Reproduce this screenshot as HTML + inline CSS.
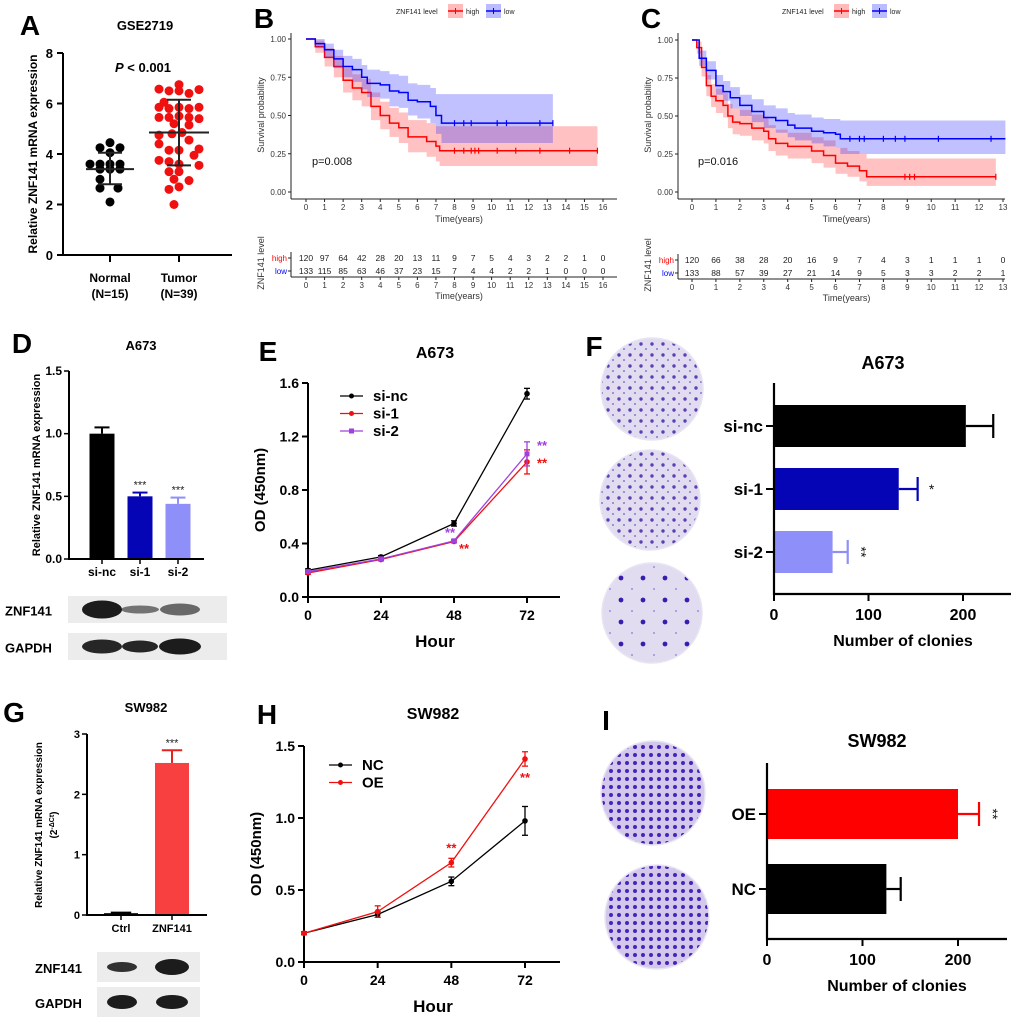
<!DOCTYPE html>
<html><head><meta charset="utf-8"><style>
body{margin:0;background:#fff}
svg{display:block;font-family:"Liberation Sans",Arial,sans-serif}
</style></head><body>
<svg id="fig" width="1020" height="1022" viewBox="0 0 1020 1022" xmlns="http://www.w3.org/2000/svg">
<defs>
<pattern id="dots1" width="11" height="11" patternUnits="userSpaceOnUse"><rect width="11" height="11" fill="#e2dcf1"/><circle cx="3" cy="3" r="1.7" fill="#5a3fb5"/><circle cx="8" cy="8" r="1" fill="#8a78cc"/></pattern>
<pattern id="dots3" width="22" height="22" patternUnits="userSpaceOnUse"><rect width="22" height="22" fill="#e2dcf1"/><circle cx="5" cy="6" r="2.4" fill="#3a1cb0"/><circle cx="16" cy="17" r="0.9" fill="#8a78cc"/></pattern>
<pattern id="dots2" width="8" height="8" patternUnits="userSpaceOnUse"><rect width="8" height="8" fill="#d2c8ec"/><circle cx="3" cy="3" r="2" fill="#4a22b8"/></pattern>
</defs>
<g id="panels"></g>
</svg>
<script>
// ---------- Panel A data ----------
const aNormal=[[0,4.45],[-10,4.25],[10,4.25],[0,4.05],[-20,3.6],[-10,3.6],[0,3.6],[10,3.6],[-10,3.4],[0,3.4],[10,3.4],[-10,3.0],[-10,2.65],[8,2.65],[0,2.1]];
const aTumor=[[0,6.75],[-20,6.57],[-10,6.5],[0,6.5],[10,6.4],[20,6.55],[-20,5.85],[-10,5.8],[0,5.85],[10,5.8],[20,5.85],[-20,5.45],[-10,5.45],[0,5.5],[10,5.45],[20,5.4],[-5,5.2],[10,5.15],[-20,4.75],[-7,4.8],[3,4.85],[10,4.55],[-10,4.15],[0,4.15],[20,4.2],[-20,3.75],[-10,3.7],[0,3.6],[20,3.55],[-10,3.3],[0,3.3],[-5,3.0],[10,2.95],[0,2.7],[-10,2.6],[-5,2.0],[-20,4.4],[15,3.95],[-15,6.05]];
const aStats=[[3.4,2.8,4.05],[4.85,3.55,6.15]];
const aTicks=[0,2,4,6,8];
// ---------- KM data ----------
const bHighT=[0,0.5,1,1.5,2,2.5,3,3.5,4,4.5,5,5.5,6,6.5,7,7.2,15.7];
const bHighS=[1,0.95,0.88,0.82,0.73,0.68,0.65,0.56,0.5,0.45,0.42,0.36,0.36,0.33,0.3,0.27,0.27];
const bHighLo=[1,0.91,0.82,0.75,0.65,0.6,0.56,0.47,0.41,0.36,0.32,0.26,0.26,0.23,0.2,0.17,0.17];
const bHighUp=[1,0.99,0.94,0.89,0.81,0.77,0.74,0.65,0.59,0.55,0.52,0.47,0.47,0.45,0.43,0.43,0.43];
const bLowT=[0,0.5,1,1.5,2,2.5,3,3.3,4,4.5,5,5.5,6,6.7,7,7.3,13.3];
const bLowS=[1,0.97,0.93,0.87,0.82,0.8,0.75,0.71,0.7,0.66,0.65,0.6,0.59,0.56,0.5,0.45,0.45];
const bLowLo=[1,0.94,0.88,0.81,0.75,0.72,0.67,0.62,0.61,0.56,0.55,0.5,0.48,0.45,0.38,0.32,0.32];
const bLowUp=[1,1,0.97,0.93,0.89,0.87,0.83,0.8,0.79,0.77,0.76,0.71,0.7,0.68,0.64,0.64,0.64];
const bHighCens=[8,8.5,8.9,9.1,9.3,10.3,11.3,12.6,14.2,15.7];
const bLowCens=[8,8.5,8.9,10.3,10.8,12.6,13.3];
const bRiskHigh=[120,97,64,42,28,20,13,11,9,7,5,4,3,2,2,1,0];
const bRiskLow=[133,115,85,63,46,37,23,15,7,4,4,2,2,1,0,0,0];
const cHighT=[0,0.2,0.4,0.6,0.8,1,1.3,1.5,1.7,2,2.5,3,3.2,3.5,4,5,5.5,6,6.5,7,7.3,12.7];
const cHighS=[1,0.95,0.82,0.7,0.63,0.6,0.57,0.5,0.46,0.45,0.42,0.4,0.35,0.32,0.3,0.27,0.24,0.19,0.17,0.14,0.1,0.1];
const cHighLo=[1,0.91,0.76,0.63,0.56,0.52,0.49,0.42,0.38,0.37,0.34,0.32,0.27,0.24,0.22,0.19,0.16,0.12,0.1,0.07,0.04,0.04];
const cHighUp=[1,0.99,0.88,0.77,0.71,0.68,0.65,0.58,0.55,0.54,0.51,0.49,0.44,0.41,0.39,0.36,0.34,0.29,0.27,0.25,0.22,0.22];
const cLowT=[0,0.3,0.6,1,1.3,1.6,2,2.5,3,3.5,4,4.3,5,5.5,6,6.2,13.1];
const cLowS=[1,0.88,0.8,0.7,0.66,0.62,0.57,0.53,0.49,0.47,0.44,0.42,0.4,0.39,0.38,0.35,0.35];
const cLowLo=[1,0.83,0.74,0.64,0.6,0.55,0.5,0.46,0.42,0.39,0.36,0.34,0.32,0.3,0.29,0.25,0.25];
const cLowUp=[1,0.93,0.86,0.77,0.73,0.69,0.64,0.61,0.57,0.55,0.52,0.51,0.49,0.48,0.48,0.47,0.47];
const cHighCens=[8.9,9.1,9.3,12.7];
const cLowCens=[6.6,7,7.2,8,8.5,8.9,10.3,12.5];
const cRiskHigh=[120,66,38,28,20,16,9,7,4,3,1,1,1,0];
const cRiskLow=[133,88,57,39,27,21,14,9,5,3,3,2,2,1];
const kmYTicks=["0.00","0.25","0.50","0.75","1.00"];
// ---------- D ----------
const dCats=["si-nc","si-1","si-2"];
const dVals=[1.0,0.5,0.44];
const dErr=[0.05,0.03,0.05];
const dTicks=[0,0.5,1.0,1.5];
// ---------- E ----------
const eHours=[0,24,48,72];
const eNc=[0.2,0.3,0.55,1.52];
const eSi1=[0.18,0.28,0.415,1.01];
const eSi2=[0.19,0.285,0.42,1.07];
const eErrNc=[0.01,0.01,0.02,0.04];
const eErr1=[0.01,0.01,0.01,0.09];
const eErr2=[0.01,0.01,0.01,0.09];
const eTicks=[0,0.4,0.8,1.2,1.6];
// ---------- F ----------
const fCats=["si-nc","si-1","si-2"];
const fVals=[203,132,62];
const fErr=[29,20,16];
const fTicks=[0,100,200];
// ---------- G ----------
const gCats=["Ctrl","ZNF141"];
const gVals=[0.03,2.52];
const gErr=[0.01,0.21];
const gTicks=[0,1,2,3];
// ---------- H ----------
const hHours=[0,24,48,72];
const hNc=[0.2,0.33,0.56,0.98];
const hOe=[0.2,0.35,0.69,1.41];
const hErrNc=[0.01,0.02,0.03,0.1];
const hErrOe=[0.01,0.04,0.03,0.05];
const hTicks=[0,0.5,1.0,1.5];
// ---------- I ----------
const iCats=["OE","NC"];
const iVals=[200,125];
const iErr=[22,15];
const iTicks=[0,100,200];

const NS="http://www.w3.org/2000/svg";
const root=document.getElementById('panels');
function el(tag,attrs,parent,text){const e=document.createElementNS(NS,tag);for(const k in attrs)e.setAttribute(k,attrs[k]);if(text!==undefined)e.textContent=text;(parent||root).appendChild(e);return e;}
function txt(x,y,s,size,opts,parent){opts=opts||{};const a={x:x,y:y,'font-size':size,'text-anchor':opts.anchor||'middle',fill:opts.fill||'#000'};if(opts.bold)a['font-weight']='bold';if(opts.rot)a.transform='rotate(-90 '+x+' '+y+')';if(opts.italic)a['font-style']='italic';const t=el('text',a,parent,s);return t;}
function line(x1,y1,x2,y2,c,w,parent){return el('line',{x1:x1,y1:y1,x2:x2,y2:y2,stroke:c||'#000','stroke-width':w||2},parent);}

// ================= Panel A =================
(function(){
const g=el('g',{});
const y=v=>255-v*(255-53)/8;
const t=txt(30,35,'A',28,{bold:1},g);
const ti=txt(145,30,'GSE2719',13,{bold:1},g);
line(63,53,63,256,'#000',2,g);line(62,255,232,255,'#000',2,g);
aTicks.forEach(v=>{line(57,y(v),63,y(v),'#000',2,g);const l=txt(53,y(v)+5,String(v),13,{anchor:'end',bold:1},g);});
[110,179].forEach(x=>line(x,255,x,262,'#000',2,g));
const yl=txt(37,154,'Relative ZNF141 mRNA expression',12,{bold:1,rot:1},g);
txt(110,282,'Normal',12,{bold:1},g);txt(110,298,'(N=15)',12,{bold:1},g);
txt(179,282,'Tumor',12,{bold:1},g);txt(179,298,'(N=39)',12,{bold:1},g);
const p=el('text',{x:143,y:72,'font-size':13,'text-anchor':'middle','font-weight':'bold'},g);

el('tspan',{'font-style':'italic'},p,'P');el('tspan',{},p,' < 0.001');
aNormal.forEach(d=>{const c=el('circle',{cx:110+d[0],cy:y(d[1]),r:4.5,fill:'#000'},g);});
aTumor.forEach(d=>{const c=el('circle',{cx:179+d[0],cy:y(d[1]),r:4.5,fill:'#f01010'},g);});
[[110,24,12],[179,30,12]].forEach((c,i)=>{const s=aStats[i];line(c[0]-c[1],y(s[0]),c[0]+c[1],y(s[0]),'#222',2,g);line(c[0],y(s[1]),c[0],y(s[2]),'#222',2,g);line(c[0]-c[2],y(s[1]),c[0]+c[2],y(s[1]),'#222',2,g);line(c[0]-c[2],y(s[2]),c[0]+c[2],y(s[2]),'#222',2,g);});
})();

// ================= KM panels =================
function km(o){
const g=el('g',{});
const x=t=>o.x0+t*o.dx, y=s=>192-s*(192-o.y1);
const L=txt(o.labX,28,o.label,28,{bold:1},g);
const lg=el('g',{},g);
txt(o.legX,14,'ZNF141 level',7,{anchor:'start',fill:'#222'},lg);
[['high','#f00','#fbb',o.legX+52],['low','#00f','#bbf',o.legX+90]].forEach(k=>{const e=el('g',{},lg);el('rect',{x:k[3],y:4,width:15,height:14,fill:k[2]},e);line(k[3],11,k[3]+15,11,k[1],1.5,e);line(k[3]+7.5,8,k[3]+7.5,14,k[1],1,e);txt(k[3]+18,14,k[0],7,{anchor:'start',fill:'#222'},e);});
function series(T,S,Lo,Up,cens,col,fill,nm){
 let up='',lo='';for(let i=0;i<T.length;i++){const xn=i<T.length-1?x(T[i+1]):x(T[i]);up+=(i?'L':'M')+x(T[i])+' '+y(Up[i])+'L'+xn+' '+y(Up[i]);lo=' L'+xn+' '+y(Lo[i])+' L'+x(T[i])+' '+y(Lo[i])+lo;}
 const b=el('path',{d:up+lo+'Z',fill:fill,'fill-opacity':0.3,stroke:'none'},g);
 let d='';for(let i=0;i<T.length;i++){d+=(i?'L'+x(T[i])+' '+y(S[i-1])+'L':'M')+x(T[i])+' '+y(S[i]);}
 const c=el('path',{d:d,fill:'none',stroke:col,'stroke-width':1.5},g);
 const last=S[S.length-1];cens.forEach(t=>{const m=line(x(t),y(last)-3,x(t),y(last)+3,col,1.2,g);});
}
series(o.hT,o.hS,o.hLo,o.hUp,o.hC,'#f00','#f33','high');
series(o.lT,o.lS,o.lLo,o.lUp,o.lC,'#00f','#33f','low');
line(o.ax,33,o.ax,199,'#222',1,g);line(o.ax,199,o.axEnd,199,'#222',1,g);
kmYTicks.forEach((s,i)=>{const yy=y(i*0.25);line(o.ax-3,yy,o.ax,yy,'#222',1,g);const l=txt(o.ax-5,yy+3,s,8,{anchor:'end',fill:'#333'},g);});
const yt=txt(o.ax-27,115,'Survival probability',9,{rot:1,fill:'#333'},g);
for(let t=0;t<=o.max;t++){line(x(t),199,x(t),202,'#222',1,g);txt(x(t),210,String(t),8,{fill:'#333'},g);}
const xt=txt((o.ax+o.axEnd)/2+5,222,'Time(years)',9,{fill:'#333'},g);
const pv=txt(o.pX,165,o.p,11,{anchor:'start',fill:'#111'},g);
const rt=el('g',{},g);
txt(o.ax-4,o.rY+3,'high',8,{anchor:'end',fill:'#f00'},rt);txt(o.ax-4,o.rY+16,'low',8,{anchor:'end',fill:'#00f'},rt);
line(o.ax,o.rY-6,o.ax,o.rY+19,'#222',1,rt);line(o.ax,o.rY+19,o.axEnd,o.rY+19,'#222',1,rt);
line(o.ax-3,o.rY,o.ax,o.rY,'#222',1,rt);line(o.ax-3,o.rY+13,o.ax,o.rY+13,'#222',1,rt);
o.rH.forEach((v,i)=>txt(x(i),o.rY+3,String(v),8.5,{fill:'#222'},rt));
o.rL.forEach((v,i)=>txt(x(i),o.rY+16,String(v),8.5,{fill:'#222'},rt));
for(let t=0;t<=o.max;t++){line(x(t),o.rY+19,x(t),o.rY+22,'#222',1,rt);txt(x(t),o.rY+30,String(t),8,{fill:'#333'},rt);}
txt((o.ax+o.axEnd)/2+5,o.rY+41,'Time(years)',9,{fill:'#333'},rt);
txt(o.ax-27,o.rY+5,'ZNF141 level',9,{rot:1,fill:'#333'},rt);
}
km({name:'panel-b',label:'B',labX:264,legX:396,x0:306,dx:(603-306)/16,y1:39,ax:291,axEnd:617,max:16,p:'p=0.008',pX:312,rY:258,
 hT:bHighT,hS:bHighS,hLo:bHighLo,hUp:bHighUp,hC:bHighCens,lT:bLowT,lS:bLowS,lLo:bLowLo,lUp:bLowUp,lC:bLowCens,rH:bRiskHigh,rL:bRiskLow});
km({name:'panel-c',label:'C',labX:651,legX:782,x0:692,dx:(1003-692)/13,y1:40,ax:678,axEnd:1005,max:13,p:'p=0.016',pX:698,rY:260,
 hT:cHighT,hS:cHighS,hLo:cHighLo,hUp:cHighUp,hC:cHighCens,lT:cLowT,lS:cLowS,lLo:cLowLo,lUp:cLowUp,lC:cLowCens,rH:cRiskHigh,rL:cRiskLow});

// ================= vertical bar panels (D, G) =================
function vbar(o){
const g=el('g',{});
const y=v=>o.y0-v*(o.y0-o.yTop)/o.vmax;
const L=txt(o.labX,o.labY,o.label,28,{bold:1},g);
const T=txt(o.titleX,o.titleY,o.title,13,{bold:1},g);
o.vals.forEach((v,i)=>{const cx=o.cx[i];
 const r=el('rect',{x:cx-o.w/2,y:y(v),width:o.w,height:o.y0-y(v),fill:o.cols[i]},g);
 const e=o.errCols[i];line(cx,y(v),cx,y(v+o.err[i]),e,2,g);line(cx-o.w*0.3,y(v+o.err[i]),cx+o.w*0.3,y(v+o.err[i]),e,2,g);
 if(o.stars[i]){const s=txt(cx,y(v+o.err[i])-4,o.stars[i],11,{fill:'#222'},g);}
 line(cx,o.y0,cx,o.y0+5,'#000',1.5,g);
 const l=txt(cx,o.y0+17,o.cats[i],o.catSize,{bold:1},g);
});
line(o.ax,o.yTop,o.ax,o.y0+1,'#000',2,g);line(o.ax,o.y0,o.axEnd,o.y0,'#000',2,g);
o.ticks.forEach(v=>{line(o.ax-5,y(v),o.ax,y(v),'#000',1.5,g);const l=txt(o.ax-7,y(v)+4,o.tickFmt(v),o.tickSize,{anchor:'end',bold:1},g);});
return {g:g,y:y};
}
(function(){
const r=vbar({name:'panel-d',label:'D',labX:22,labY:353,title:'A673',titleX:141,titleY:350,y0:559,yTop:371,vmax:1.5,ax:69,axEnd:204,
 cx:[102,140,178],w:25,vals:dVals,err:dErr,cats:dCats,cols:['#000','#0505b5','#8f8ffa'],errCols:['#000','#0505b5','#8f8ffa'],stars:['','***','***'],
 ticks:dTicks,tickFmt:v=>v.toFixed(1),tickSize:12,catSize:12});
const yl=txt(40,465,'Relative ZNF141 mRNA expression',11,{bold:1,rot:1},r.g);
})();
(function(){
const r=vbar({name:'panel-g',label:'G',labX:14,labY:722,title:'SW982',titleX:146,titleY:712,y0:915,yTop:734,vmax:3,ax:87,axEnd:207,
 cx:[121,172],w:34,vals:gVals,err:gErr,cats:gCats,cols:['#000','#f94040'],errCols:['#000','#e82020'],stars:['','***'],
 ticks:gTicks,tickFmt:v=>String(v),tickSize:11,catSize:11});
const yl=txt(42,825,'Relative ZNF141 mRNA expression',10,{bold:1,rot:1},r.g);
const y2=el('text',{x:57,y:825,'font-size':10,'font-weight':'bold','text-anchor':'middle',transform:'rotate(-90 57 825)'},r.g);

el('tspan',{},y2,'(2');el('tspan',{'baseline-shift':'super','font-size':7},y2,'-ΔCt');el('tspan',{},y2,')');
})();

// ================= Western blots =================
function blot(x,y,w,h,bands,name,label,lx,fs){
const g=el('g',{});
el('rect',{x:x,y:y,width:w,height:h,fill:'#ececec'},g);
bands.forEach(b=>{el('ellipse',{cx:b[0],cy:y+h/2,rx:b[1],ry:b[2],fill:'#111','fill-opacity':b[3]},g);});
const t=txt(lx,y+h/2+6,label,fs,{anchor:'start',bold:1},g);
}
blot(68,596,159,27,[[102,20,9,0.95],[140,19,4,0.55],[180,20,6,0.6]],'blot-znf141-a673','ZNF141',5,13);
blot(68,633,159,27,[[102,20,7,0.9],[140,18,6,0.9],[180,21,8,0.95]],'blot-gapdh-a673','GAPDH',5,13);
blot(97,952,103,30,[[122,15,5,0.85],[172,17,8,0.95]],'blot-znf141-sw982','ZNF141',35,13);
blot(97,987,103,30,[[122,15,7,0.95],[172,16,7,0.95]],'blot-gapdh-sw982','GAPDH',35,13);

// ================= line panels (E, H) =================
function lineChart(o){
const g=el('g',{});
const x=h=>o.ax+h*(o.x72-o.ax)/72, y=v=>o.y0-v*(o.y0-o.yTop)/o.vmax;
const L=txt(o.labX,o.labY,o.label,28,{bold:1},g);
const T=txt(o.cxT,o.titleY,o.title,16,{bold:1},g);
line(o.ax,o.yTop,o.ax,o.y0+1,'#000',2,g);line(o.ax,o.y0,o.axEnd,o.y0,'#000',2,g);
o.ticks.forEach(v=>{line(o.ax-6,y(v),o.ax,y(v),'#000',2,g);const l=txt(o.ax-9,y(v)+5,o.fmt(v),14,{anchor:'end',bold:1},g);});
o.hours.forEach(h=>{line(x(h),o.y0,x(h),o.y0+6,'#000',2,g);const l=txt(x(h),o.y0+23,String(h),14,{bold:1},g);});
const xt=txt(o.cxT,o.y0+50,'Hour',17,{bold:1},g);
const yt=txt(o.ax-43,(o.y0+o.yTop)/2,'OD (450nm)',15,{bold:1,rot:1},g);
o.series.forEach((s,si)=>{
 const pts=s.v.map((v,i)=>x(o.hours[i])+','+y(v)).join(' ');
 const pl=el('polyline',{points:pts,fill:'none',stroke:s.c,'stroke-width':1.3},g);
 s.v.forEach((v,i)=>{const cx=x(o.hours[i]);line(cx,y(v-s.e[i]),cx,y(v+s.e[i]),s.c,1.3,g);line(cx-3,y(v-s.e[i]),cx+3,y(v-s.e[i]),s.c,1.3,g);line(cx-3,y(v+s.e[i]),cx+3,y(v+s.e[i]),s.c,1.3,g);
  const m=s.sq?el('rect',{x:cx-2.5,y:y(v)-2.5,width:5,height:5,fill:s.c},g):el('circle',{cx:cx,cy:y(v),r:2.8,fill:s.c},g);});
 const ly=o.legY+si*o.legDy;
 const le=el('g',{},g);
 line(o.legX,ly,o.legX+23,ly,s.c,1.3,le);
 if(s.sq)el('rect',{x:o.legX+9,y:ly-2.5,width:5,height:5,fill:s.c},le);else el('circle',{cx:o.legX+11.5,cy:ly,r:2.5,fill:s.c},le);
 txt(o.legX+33,ly+5,s.n,15,{anchor:'start',bold:1},le);
});
o.stars.forEach(s=>{const t=txt(x(s[0])+s[1],y(s[2]),'**',13,{bold:1,fill:s[3]},g);});
}
lineChart({name:'panel-e',label:'E',labX:268,labY:361,title:'A673',titleY:358,cxT:435,ax:308,x72:527,axEnd:560,y0:597,yTop:383,vmax:1.6,ticks:eTicks,fmt:v=>v.toFixed(1),hours:eHours,
 legX:340,legY:396,legDy:17.5,
 series:[{n:'si-nc',v:eNc,e:eErrNc,c:'#000'},{n:'si-1',v:eSi1,e:eErr1,c:'#f01010'},{n:'si-2',v:eSi2,e:eErr2,c:'#a040e0',sq:1}],
 stars:[[48,-4,0.45,'#a040e0'],[48,10,0.33,'#f01010'],[72,15,1.1,'#a040e0'],[72,15,0.97,'#f01010']]});
lineChart({name:'panel-h',label:'H',labX:267,labY:724,title:'SW982',titleY:719,cxT:433,ax:304,x72:525,axEnd:560,y0:962,yTop:746,vmax:1.5,ticks:hTicks,fmt:v=>v.toFixed(1),hours:hHours,
 legX:329,legY:765,legDy:17.5,
 series:[{n:'NC',v:hNc,e:hErrNc,c:'#000'},{n:'OE',v:hOe,e:hErrOe,c:'#f01010'}],
 stars:[[48,0,0.76,'#f01010'],[72,0,1.25,'#f01010']]});

// ================= horizontal bar panels (F, I) =================
function hbar(o){
const g=el('g',{});
const x=v=>o.ax+v*(o.x200-o.ax)/200;
o.plates.forEach((p,i)=>{const c=el('circle',{cx:p[0],cy:p[1],r:p[2],fill:p[3],stroke:'#e8e4f2','stroke-width':1.5},g);});
const L=txt(o.labX,o.labY,o.label,28,{bold:1},g);
const T=txt(o.titleX,o.titleY,o.title,18,{bold:1},g);
o.vals.forEach((v,i)=>{const yc=o.yc[i];
 const r=el('rect',{x:o.ax,y:yc-o.h/2,width:x(v)-o.ax,height:o.h,fill:o.cols[i]},g);
 const ec=o.cols[i];line(x(v),yc,x(v+o.err[i]),yc,ec,2.2,g);line(x(v+o.err[i]),yc-12,x(v+o.err[i]),yc+12,ec,2.2,g);
 line(o.ax-8,yc,o.ax,yc,'#000',2,g);
 const l=txt(o.ax-11,yc+6,o.cats[i],17,{anchor:'end',bold:1},g);
 if(o.stars[i]){const s=txt(x(v+o.err[i])+14,yc+5,o.stars[i],14,{fill:'#111'},g);if(o.stars[i]==='**')s.setAttribute('transform','rotate(90 '+(x(v+o.err[i])+14)+' '+yc+')');}
});
line(o.ax,o.yTop,o.ax,o.y0+1,'#000',2.2,g);line(o.ax,o.y0,o.axEnd,o.y0,'#000',2.2,g);
o.ticks.forEach(v=>{line(x(v),o.y0,x(v),o.y0+7,'#000',2,g);const l=txt(x(v),o.y0+26,String(v),16,{bold:1},g);});
const xt=txt(o.titleX+20,o.y0+52,'Number of clonies',16,{bold:1},g);
}
hbar({name:'panel-f',label:'F',labX:594,labY:356,title:'A673',titleX:883,titleY:369,ax:774,x200:963,axEnd:1011,yTop:383,y0:594,h:42,
 yc:[426,489,552],vals:fVals,err:fErr,cats:fCats,cols:['#000','#0505b5','#8f8ffa'],stars:['','*','**'],ticks:fTicks,
 plates:[[652,389,51,'url(#dots1)'],[650,500,50,'url(#dots1)'],[652,613,50,'url(#dots3)']]});
hbar({name:'panel-i',label:'I',labX:606,labY:730,title:'SW982',titleX:877,titleY:747,ax:767,x200:958,axEnd:1007,yTop:763,y0:939,h:50,
 yc:[814,889],vals:iVals,err:iErr,cats:iCats,cols:['#f00','#000'],stars:['**',''],ticks:iTicks,
 plates:[[653,793,52,'url(#dots2)'],[657,917,52,'url(#dots2)']]});
</script>
</body></html>
